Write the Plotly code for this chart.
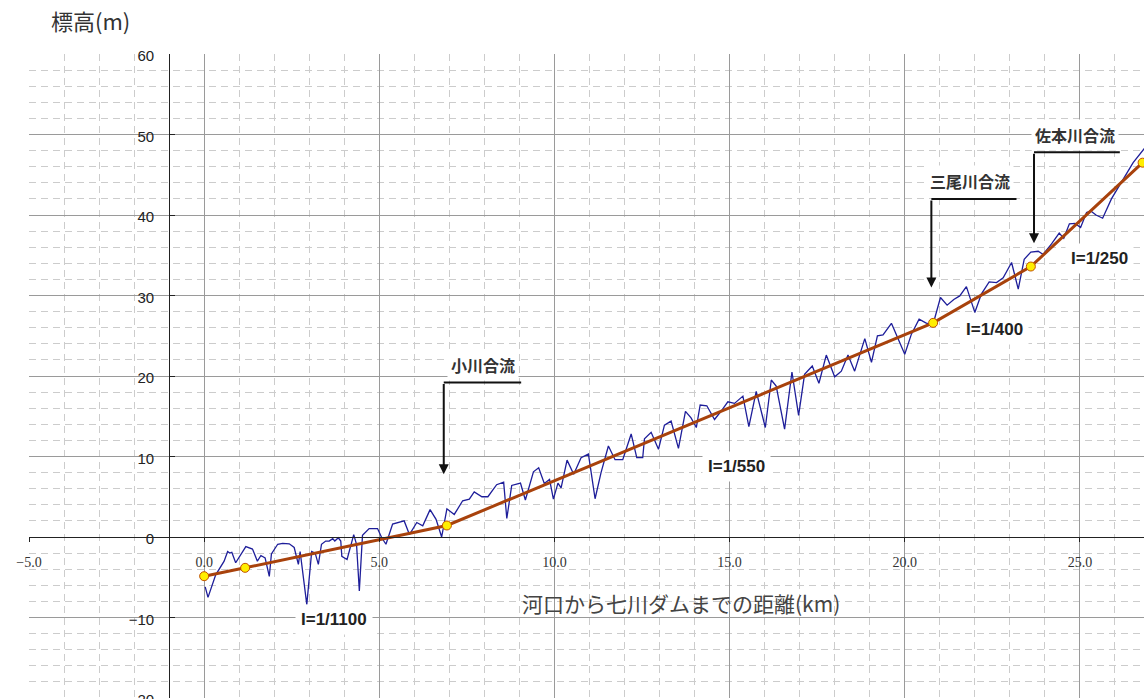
import plotly.graph_objects as go

# 河床高（実測）: 距離(km), 標高(m)
bed_km = [0.03, 0.11, 0.33, 0.57, 0.67, 0.73, 0.79, 0.90, 1.19, 1.38, 1.52, 1.62, 1.74, 1.86, 1.92,
          2.10, 2.24, 2.43, 2.57, 2.69, 2.74, 2.93, 3.07, 3.17, 3.26, 3.35, 3.47, 3.57, 3.67, 3.73,
          3.83, 3.90, 3.93, 4.08, 4.27, 4.35, 4.43, 4.52, 4.71, 4.95, 5.07, 5.19, 5.38, 5.52, 5.71,
          5.86, 6.07, 6.24, 6.45, 6.62, 6.78, 6.93, 7.14, 7.38, 7.57, 7.71, 7.93, 8.10, 8.35, 8.55,
          8.64, 8.78, 9.03, 9.17, 9.40, 9.55, 9.71, 9.86, 9.97, 10.10, 10.19, 10.36, 10.55, 10.76,
          10.97, 11.16, 11.33, 11.54, 11.73, 11.95, 12.19, 12.35, 12.52, 12.57, 12.76, 12.97, 13.14,
          13.33, 13.54, 13.74, 13.90, 14.05, 14.16, 14.35, 14.57, 14.76, 14.95, 15.14, 15.38, 15.55,
          15.76, 16.02, 16.19, 16.33, 16.57, 16.78, 16.97, 17.14, 17.36, 17.55, 17.76, 18.00, 18.19,
          18.38, 18.57, 18.86, 19.05, 19.22, 19.38, 19.62, 19.81, 20.00, 20.19, 20.41, 20.60, 20.80,
          21.02, 21.21, 21.40, 21.57, 21.76, 22.00, 22.19, 22.41, 22.62, 22.81, 23.05, 23.24, 23.41,
          23.60, 23.81, 23.95, 24.19, 24.41, 24.54, 24.70, 24.86, 25.02, 25.19, 25.31, 25.46, 25.65,
          25.90, 26.19, 26.52, 26.83, 27.00]
bed_m = [-6.2, -7.5, -4.7, -3.0, -1.8, -2.0, -1.9, -3.2, -1.2, -1.5, -3.0, -2.3, -2.6, -4.9, -2.1,
         -0.9, -0.8, -0.85, -1.3, -3.4, -1.8, -8.4, -1.8, -2.0, -3.4, -0.9, -0.5, -0.5, -0.2, -0.5,
         -0.1, -0.5, -2.4, -2.8, 0.3, -0.9, -6.7, 0.2, 1.05, 1.05, -0.1, -0.9, 1.6, 1.8, 2.0,
         0.3, 1.8, 1.4, 3.4, 2.2, 0.0, 3.5, 2.8, 4.5, 4.7, 5.6, 5.0, 5.0, 6.5, 6.8,
         2.3, 6.4, 6.7, 4.6, 8.1, 8.6, 6.65, 7.15, 4.7, 6.7, 6.1, 9.55, 7.8, 9.85,
         10.3, 4.75, 8.0, 11.3, 9.6, 9.6, 12.8, 9.85, 9.85, 12.2, 13.0, 10.9, 13.9,
         14.4, 11.0, 15.6, 14.8, 13.6, 16.4, 16.3, 14.6, 15.65, 16.8, 16.6, 17.5, 13.7,
         18.1, 13.6, 19.5, 18.75, 13.4, 20.5, 15.1, 20.2, 21.25, 19.1, 22.6, 19.9, 20.6,
         22.6, 20.6, 24.65, 21.7, 25.0, 25.1, 26.55, 24.65, 22.7, 25.2, 27.05, 26.6, 26.3,
         29.75, 28.8, 29.5, 29.95, 31.1, 27.9, 30.2, 31.7, 31.6, 32.2, 34.1, 30.8, 34.5,
         35.4, 35.5, 35.1, 36.4, 37.75, 37.1, 38.9, 38.95, 38.45, 40.3, 40.5, 40.0, 39.6,
         42.0, 44.05, 46.5, 48.2, 49.3]

# 計画河床勾配の変化点
grade_km = [0.0, 1.17, 6.93, 20.81, 23.60, 26.79]
grade_m = [-4.87, -3.83, 1.43, 26.6, 33.6, 46.5]

# 勾配ラベル
slope_text = ["I=1/1100", "I=1/550", "I=1/400", "I=1/250"]
slope_km = [3.71, 15.2, 22.57, 25.57]
slope_m = [-10.25, 8.76, 25.8, 34.6]

# 合流点の引き出し線
conf_text = ["小川合流", "三尾川合流", "佐本川合流"]
conf_label_km = [7.97, 21.86, 24.86]
conf_label_m = [21.4, 44.2, 50.0]
conf_line_x0 = [6.84, 20.76, 23.69]
conf_line_x1 = [9.05, 23.19, 26.14]
conf_line_m = [19.2, 42.0, 47.8]
conf_tip_m = [7.8, 31.0, 36.5]

x_range = [-5.0, 26.83]
y_range = [-20, 60]
y_axis_at_km = -1.0

W, H = 1144, 699
ML, MR, MT, MB = 29, 0, 54, 1
PW, PH = W - ML - MR, H - MT - MB


def px_to_paper(px, py):
    return (px - ML) / PW, (H - MB - py) / PH


fig = go.Figure()
fig.add_trace(go.Scatter(x=bed_km, y=bed_m, mode="lines",
                         line=dict(color="#1e1e9a", width=1.3), showlegend=False))
fig.add_trace(go.Scatter(x=grade_km, y=grade_m, mode="lines+markers",
                         line=dict(color="#a8420c", width=3),
                         marker=dict(size=9, color="#ffee00", line=dict(color="#c05000", width=1)),
                         showlegend=False))

annotations = []
for t, x, y in zip(slope_text, slope_km, slope_m):
    annotations.append(dict(x=x, y=y, xref="x", yref="y", text="<b>" + t + "</b>", showarrow=False,
                            xanchor="center", yanchor="middle",
                            font=dict(family="Liberation Sans", size=17, color="#222"),
                            bgcolor="white", borderpad=5))
for t, x, y in zip(conf_text, conf_label_km, conf_label_m):
    annotations.append(dict(x=x, y=y, xref="x", yref="y", text="<b>" + t + "</b>", showarrow=False,
                            xanchor="center", yanchor="middle",
                            font=dict(family="Noto Sans CJK JP", size=16, color="#333"),
                            bgcolor="white", borderpad=3))
shapes = []
for x0, x1, ym, yt in zip(conf_line_x0, conf_line_x1, conf_line_m, conf_tip_m):
    shapes.append(dict(type="line", xref="x", yref="y", x0=x0, x1=x1, y0=ym, y1=ym,
                       line=dict(color="#111", width=2)))
    annotations.append(dict(x=x0, y=yt, xref="x", yref="y", ax=x0, ay=ym, axref="x", ayref="y",
                            text="", showarrow=True, arrowhead=2, arrowsize=1, arrowwidth=2,
                            arrowcolor="#111", standoff=0))

tx, ty = px_to_paper(90, 20)
annotations.append(dict(x=tx, y=ty, xref="paper", yref="paper", text="標高(m)", showarrow=False,
                        xanchor="center", yanchor="middle",
                        font=dict(family="Noto Sans CJK JP", size=22, color="#333")))
tx, ty = px_to_paper(681, 603)
annotations.append(dict(x=tx, y=ty, xref="paper", yref="paper",
                        text="河口から七川ダムまでの距離(km)", showarrow=False,
                        xanchor="center", yanchor="middle",
                        font=dict(family="Noto Sans CJK JP", size=21, color="#444")))

fig.update_layout(
    width=W, height=H,
    margin=dict(l=ML, r=MR, t=MT, b=MB, autoexpand=False),
    paper_bgcolor="white", plot_bgcolor="white",
    showlegend=False,
    shapes=shapes, annotations=annotations,
    xaxis=dict(range=x_range, anchor="free", automargin=False,
               position=(0 - y_range[0]) / (y_range[1] - y_range[0]),
               showline=True, linecolor="#222", linewidth=1,
               tickmode="linear", tick0=0, dtick=5, tickformat=".1f",
               ticks="outside", ticklen=4, tickcolor="#222",
               showgrid=True, gridcolor="#9a9a9a", gridwidth=1, zeroline=False,
               minor=dict(dtick=1, tick0=0, showgrid=True, gridcolor="#cccccc", griddash="7px,5px"),
               tickfont=dict(family="Liberation Serif", size=14, color="#333"),
               ticklabelstandoff=8, ticklabeloverflow="allow"),
    yaxis=dict(range=y_range, anchor="free", automargin=False,
               position=(y_axis_at_km - x_range[0]) / (x_range[1] - x_range[0]),
               showline=True, linecolor="#222", linewidth=1,
               tickmode="linear", tick0=0, dtick=10,
               ticks="inside", ticklen=5, tickcolor="#222",
               showgrid=True, gridcolor="#9a9a9a", gridwidth=1, zeroline=False,
               minor=dict(dtick=2, tick0=0, showgrid=True, gridcolor="#cccccc", griddash="7px,5px"),
               tickfont=dict(family="Liberation Sans", size=15, color="#222"),
               ticklabelstandoff=12, ticklabelshift=2, ticklabeloverflow="allow"),
)

fig.write_html("out.html", config={"displayModeBar": False},
               post_script="document.body.style.margin='0';document.body.style.overflow='hidden';")
